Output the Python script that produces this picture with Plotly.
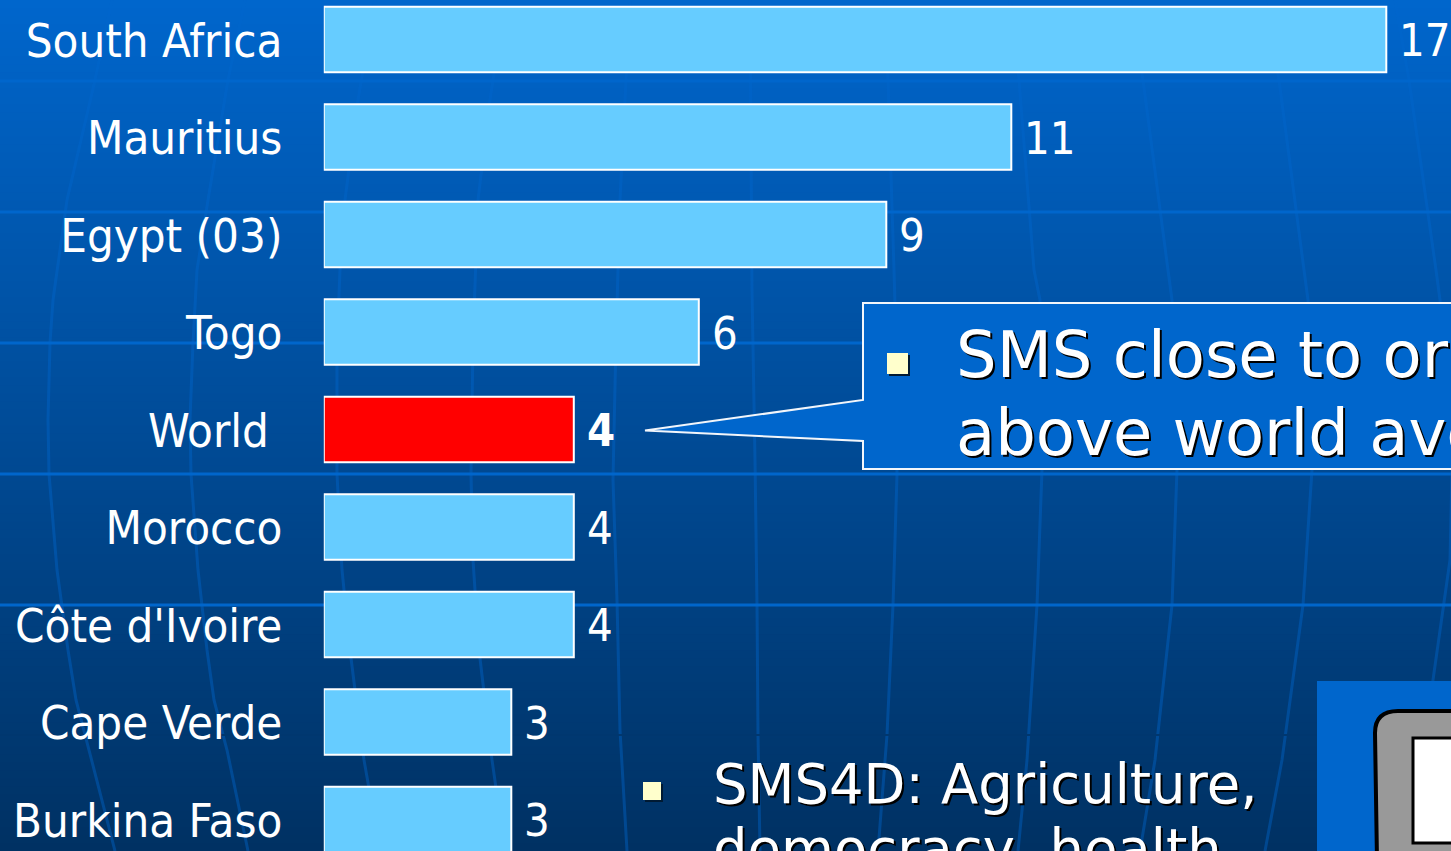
import plotly.graph_objects as go

categories = ["South Africa", "Mauritius", "Egypt (03)", "Togo", "World", "Morocco",
              "Côte d'Ivoire", "Cape Verde", "Burkina Faso"]
values = [17, 11, 9, 6, 4, 4, 4, 3, 3]
value_labels = ["17", "11", "9", "6", "<b>4</b>", "4", "4", "3", "3"]
tick_labels = ["South Africa", "Mauritius", "Egypt (03)", "Togo", "World\u00a0", "Morocco",
               "Côte d'Ivoire", "Cape Verde", "Burkina Faso"]
highlight = "World"
callout_lines = ["SMS close to or", "above world average"]
body_lines = ["SMS4D: Agriculture,", "democracy, health,"]

W, H = 1451, 851
COND = "'DejaVu Sans Condensed', 'DejaVu Sans', sans-serif"
REG = "'DejaVu Sans', sans-serif"
X0 = 323.8
PX_PER_UNIT = 62.5
Y0 = 39.5
PX_PER_CAT = 97.5


def fx(p):
    return p / W


def fy(p):
    return 1 - p / H


def paper_path(points, close=False):
    d = "M" + " L".join(f"{fx(x):.5f},{fy(y):.5f}" for x, y in points)
    return d + (" Z" if close else "")


shapes = []

# vertical gradient of the slide background
TOP, BOTTOM = (0, 102, 204), (0, 49, 99)
BANDS = 106
for i in range(BANDS):
    t = i / (BANDS - 1)
    c = tuple(round(a + (b - a) * t) for a, b in zip(TOP, BOTTOM))
    shapes.append(dict(type="rect", xref="paper", yref="paper", layer="below",
                       x0=0, x1=1, y0=fy(H * i / BANDS), y1=fy(H * (i + 1) / BANDS) - 0.001,
                       fillcolor=f"rgb{c}", line_width=0))

# globe meridians of the slide background
meridians = [
    [(112, 0), (95, 80), (67, 200), (53, 300), (50, 343), (48, 420), (49, 474), (57, 570), (68, 650), (76, 700), (89, 750), (115, 851)],
    [(245, 0), (228, 80), (208, 200), (197, 270), (193, 343), (190, 420), (191, 474), (198, 570), (207, 650), (214, 700), (227, 750), (248, 851)],
    [(375, 0), (358, 100), (345, 200), (340, 270), (337, 343), (337, 474), (342, 570), (350, 650), (355, 690), (364, 760), (380, 851)],
    [(505, 0), (490, 100), (478, 200), (473, 343), (471, 474), (473, 560), (479, 650), (492, 760), (505, 851)],
    [(630, 0), (620, 200), (616, 340), (613, 480), (617, 600), (620, 730), (627, 851)],
    [(750, 0), (752, 290), (755, 460), (757, 605), (758, 735), (760, 851)],
    [(885, 0), (888, 80), (894, 270), (896, 340), (897, 475), (893, 605), (887, 735), (878, 851)],
    [(1010, 0), (1019, 80), (1034, 270), (1040, 300), (1042, 470), (1037, 605), (1027, 760), (1018, 851)],
    [(1130, 0), (1143, 80), (1168, 270), (1172, 300), (1177, 470), (1172, 605), (1155, 760), (1140, 851)],
    [(1265, 0), (1279, 80), (1304, 270), (1308, 300), (1312, 470), (1303, 605), (1282, 760), (1265, 851)],
    [(1395, 0), (1409, 80), (1436, 270), (1440, 300), (1452, 470), (1450, 560), (1433, 680), (1405, 851)],
]
for m in meridians:
    shapes.append(dict(type="path", xref="paper", yref="paper", layer="below",
                       path=paper_path(m), line=dict(color="rgba(0,102,204,0.42)", width=3)))
shapes.append(dict(type="line", xref="paper", yref="paper", layer="below",
                   x0=0, x1=1, y0=fy(735), y1=fy(735), line=dict(color="#00376f", width=2)))

# parallels
for y in [81, 212, 343, 474, 605]:
    shapes.append(dict(type="line", xref="paper", yref="paper", layer="below",
                       x0=0, x1=1, y0=fy(y), y1=fy(y), line=dict(color="#0066CC", width=3)))

# callout
shapes.append(dict(type="path", xref="paper", yref="paper", layer="above",
                   path=paper_path([(863, 303), (1460, 303), (1460, 469), (863, 469), (863, 441), (645, 430.5), (863, 400)], True),
                   fillcolor="#0066CC", line=dict(color="#F2F6FB", width=2)))

# bullets with their shadows
for x0, y0, x1, y1 in [(887, 353, 908, 374), (643, 782, 661, 800)]:
    shapes.append(dict(type="rect", xref="paper", yref="paper", layer="above",
                       x0=fx(x0 + 2), x1=fx(x1 + 2), y0=fy(y0 + 2), y1=fy(y1 + 2),
                       fillcolor="#001A33", line_width=0))
    shapes.append(dict(type="rect", xref="paper", yref="paper", layer="above",
                       x0=fx(x0), x1=fx(x1), y0=fy(y0), y1=fy(y1),
                       fillcolor="#FFFFCC", line_width=0))

# telephone picture in the corner
shapes.append(dict(type="rect", xref="paper", yref="paper", layer="above",
                   x0=fx(1317), x1=1.01, y0=fy(681), y1=-0.01, fillcolor="#0066CC", line_width=0))
corner = "M{:.5f},{:.5f} L{:.5f},{:.5f} Q{:.5f},{:.5f} {:.5f},{:.5f} L{:.5f},{:.5f} L{:.5f},{:.5f} Z".format(
    fx(1460), fy(711), fx(1398), fy(711), fx(1375), fy(711), fx(1375), fy(733),
    fx(1377), fy(860), fx(1460), fy(860))
shapes.append(dict(type="path", xref="paper", yref="paper", layer="above", path=corner,
                   fillcolor="#999999", line=dict(color="#000000", width=4)))
shapes.append(dict(type="rect", xref="paper", yref="paper", layer="above",
                   x0=fx(1413), x1=fx(1460), y0=fy(738), y1=fy(843),
                   fillcolor="#FFFFFF", line=dict(color="#000000", width=3)))

annotations = []
for c, v, t in zip(categories, values, value_labels):
    annotations.append(dict(x=v, y=c, xref="x", yref="y", text=t, showarrow=False,
                            xanchor="left", yanchor="middle", xshift=11, yshift=-1,
                            font=dict(family=COND, size=45, color="#FFFFFF")))

SHADOW = "2px 2px 0px #000000"
for i, line in enumerate(callout_lines):
    annotations.append(dict(x=fx(953.5), y=fy(355 + 78 * i), xref="paper", yref="paper", text=line,
                            showarrow=False, xanchor="left", yanchor="middle",
                            font=dict(family=REG, size=64, color="#FFFFFF", shadow=SHADOW)))
for i, line in enumerate(body_lines):
    annotations.append(dict(x=fx(711), y=fy(784 + 65 * i), xref="paper", yref="paper", text=line,
                            showarrow=False, xanchor="left", yanchor="middle",
                            font=dict(family=REG, size=54.4, color="#FFFFFF", shadow=SHADOW)))

fig = go.Figure(go.Bar(
    x=values, y=categories, orientation="h", width=0.67,
    marker=dict(color=["#FF0000" if c == highlight else "#66CCFF" for c in categories],
                line=dict(color="#FFFFFF", width=2)),
    hoverinfo="skip",
))

fig.update_layout(
    width=W, height=H, margin=dict(l=0, r=0, t=0, b=0), showlegend=False,
    paper_bgcolor="#004C99", plot_bgcolor="rgba(0,0,0,0)",
    shapes=shapes, annotations=annotations,
    xaxis=dict(domain=[X0 / W, 1], range=[0, (W - X0) / PX_PER_UNIT], visible=False),
    yaxis=dict(type="category", categoryorder="array", categoryarray=categories,
               range=[(H - Y0) / PX_PER_CAT, -Y0 / PX_PER_CAT], anchor="x",
               tickmode="array", tickvals=categories, ticktext=tick_labels,
               ticks="outside", ticklen=31, tickcolor="rgba(0,0,0,0)", showline=False, showgrid=False,
               zeroline=False, ticklabelshift=-1,
               tickfont=dict(family=COND, size=47, color="#FFFFFF")),
)

fig.write_html("out.html", config=dict(displayModeBar=False),
               post_script="document.body.style.margin='0';document.body.style.overflow='hidden';")
